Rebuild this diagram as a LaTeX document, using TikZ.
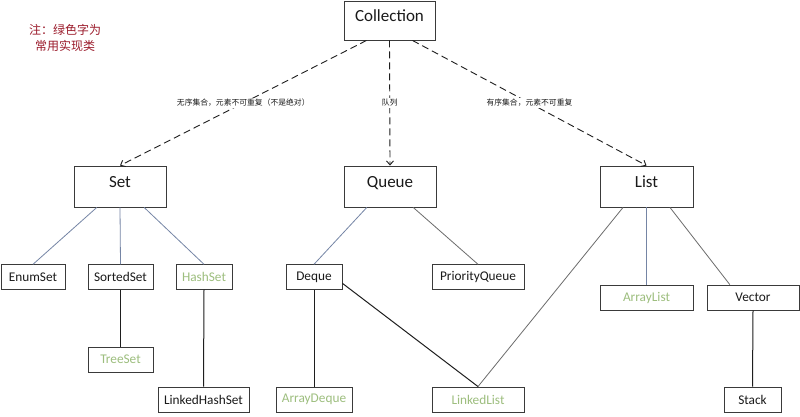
\documentclass[tikz,border=0pt]{standalone}
\usepackage{fontspec}
\setmainfont{Carlito}
\newfontfamily\cjk{Noto Sans CJK SC}
\usetikzlibrary{arrows.meta,calc}
\definecolor{boxline}{HTML}{3A3A3A}
\definecolor{implgreen}{HTML}{9DBE7E}
\definecolor{notered}{HTML}{9B1B2B}
\definecolor{slate}{HTML}{7585A5}
\definecolor{darkline}{HTML}{1E1E1E}
\definecolor{txt}{HTML}{1A1A1A}
\tikzset{
  bigbox/.style={draw=boxline, line width=0.9pt, rectangle, inner sep=0pt, minimum width=92pt, minimum height=41pt, text height=12pt, text depth=10pt, font=\fontsize{17}{19}\selectfont, text=txt},
  smallbox/.style={draw=boxline, line width=0.9pt, rectangle, inner sep=0pt, minimum height=24.5pt, font=\fontsize{13.3}{15}\selectfont, text=txt},
  impl/.style={smallbox, text=implgreen},
  dashedarrow/.style={draw=darkline, line width=0.9pt, dash pattern=on 7pt off 4pt, -{Straight Barb[length=4pt,width=7pt]}},
  upline/.style={draw=slate, line width=0.8pt},
  grayline/.style={draw=gray!85!black, line width=0.8pt},
  blackline/.style={draw=darkline, line width=1pt},
  edgelabel/.style={fill=white, inner sep=1pt, font=\cjk\fontsize{7.8}{9}\selectfont, text=txt},
}
\begin{document}
\begin{tikzpicture}[x=1pt,y=-1pt]
\useasboundingbox (0,0) rectangle (800,416);
\fill[white] (0,0) rectangle (800,416);

% note
\node[text=notered, font=\cjk\fontsize{12}{15.5}\selectfont, align=center] (note) at (65,38) {注：绿色字为\\常用实现类};

% top
\node[bigbox, minimum width=91pt, minimum height=39pt] (coll) at (389.5,20.5) {Collection};

% interfaces
\node[bigbox] (set) at (120,186.5) {Set};
\node[bigbox] (queue) at (390,186.5) {Queue};
\node[bigbox, minimum width=93pt] (list) at (646.5,186.5) {List};

% set family
\node[smallbox, minimum width=64pt] (enumset) at (33,277) {EnumSet};
\node[smallbox, minimum width=65pt] (sortedset) at (120.5,277) {SortedSet};
\node[impl, minimum width=56pt] (hashset) at (204,277) {HashSet};
\node[impl, minimum width=65pt, minimum height=25pt] (treeset) at (120.5,359.5) {TreeSet};
\node[smallbox, minimum width=91pt, minimum height=25pt] (lhs) at (203.5,399.5) {LinkedHashSet};

% queue family
\node[smallbox, minimum width=56pt] (deque) at (314,277) {Deque};
\node[impl, minimum width=76pt, minimum height=25pt] (adeque) at (314,399.5) {ArrayDeque};
\node[smallbox, minimum width=92pt] (pq) at (478,277) {PriorityQueue};
\node[impl, minimum width=92pt, minimum height=25pt] (llist) at (478,399.5) {LinkedList};

% list family
\node[impl, minimum width=93pt, minimum height=25pt] (alist) at (646.5,297.5) {ArrayList};
\node[smallbox, minimum width=92pt, minimum height=25pt] (vector) at (753,297.5) {Vector};
\node[smallbox, minimum width=57pt, minimum height=25pt] (stack) at (752.5,399.5) {Stack};

% dashed arrows from Collection
\draw[dashedarrow] ($(coll.south west)!0.25!(coll.south east)$) -- node[edgelabel, pos=0.5] {无序集合，元素不可重复（不是绝对）} (set.north);
\draw[dashedarrow] (coll.south) -- node[edgelabel, pos=0.5] {队列} (queue.north);
\draw[dashedarrow] ($(coll.south west)!0.75!(coll.south east)$) -- node[edgelabel, pos=0.5] {有序集合，元素不可重复} (list.north);

% Set children
\draw[upline] ($(set.south west)!0.25!(set.south east)$) -- (enumset.north);
\draw[upline] (set.south) -- (sortedset.north);
\draw[upline] ($(set.south west)!0.76!(set.south east)$) -- (hashset.north);
\draw[blackline] (sortedset.south) -- (treeset.north);
\draw[blackline] (hashset.south) -- (lhs.north);

% Queue children
\draw[upline] ($(queue.south west)!0.25!(queue.south east)$) -- (deque.north);
\draw[grayline] ($(queue.south west)!0.75!(queue.south east)$) -- (pq.north);
\draw[blackline] (deque.south) -- (adeque.north);
\draw[blackline] ($(deque.north east)!0.75!(deque.south east)$) -- (llist.north);

% List children
\draw[grayline] ($(list.south west)!0.25!(list.south east)$) -- (llist.north);
\draw[upline] (list.south) -- (alist.north);
\draw[grayline] ($(list.south west)!0.75!(list.south east)$) -- ($(vector.north west)!0.25!(vector.north east)$);
\draw[blackline] (vector.south) -- (stack.north);
\end{tikzpicture}
\end{document}
